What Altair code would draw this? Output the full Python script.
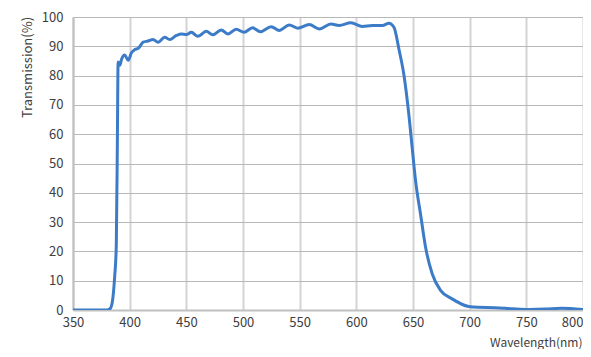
import altair as alt
import pandas as pd

wavelength = [350, 370, 380, 382.8, 384.8, 386.7, 388.2, 389.2, 389.8, 391.3, 392.8, 395.7,
              398.7, 401.6, 404.6, 407.6, 411.9, 416.2, 420.6, 425.1, 430.9, 435.3, 441.3,
              445.6, 450.0, 454.4, 460.2, 467.6, 473.4, 480.8, 486.6, 494.0, 500.9, 508.4,
              515.3, 524.8, 532.0, 540.9, 548.2, 558.5, 567.3, 577.6, 584.8, 595.2, 605.3,
              614.1, 623.0, 628.8, 633.2, 637.6, 642.0, 646.4, 649.3, 652.3, 656.7, 661.1,
              667.0, 674.3, 684.5, 699.1, 707.5, 722.4, 737.3, 752.2, 766.6, 781.0, 800]
transmission = [0, 0, 0, 0.5, 3, 11, 22, 60, 84.6, 83.5, 85.5, 87.0,
                85.2, 87.8, 88.9, 89.3, 91.4, 91.8, 92.3, 91.4, 93.1, 92.3, 93.7,
                94.2, 94.0, 94.8, 93.4, 95.1, 93.9, 95.6, 94.2, 95.8, 94.8, 96.3,
                95.0, 96.7, 95.4, 97.3, 96.2, 97.4, 95.9, 97.6, 97.1, 98.0, 96.8,
                97.1, 97.1, 97.9, 96.5, 89.0, 80.2, 66.5, 55.3, 44.0, 32.6, 21.4,
                12.3, 6.7, 3.8, 1.2, 0.9, 0.8, 0.45, 0.2, 0.3, 0.6, 0.2]

df = pd.DataFrame({"wl": wavelength, "t": transmission})

FONT = "Noto Sans CJK SC"
TXT = "#404040"

chart = alt.Chart(df).mark_line(
    color="#3b7bc8", strokeWidth=3, interpolate="monotone", clip=True
).encode(
    x=alt.X("wl:Q", scale=alt.Scale(domain=[350, 800], nice=False, zero=False),
            axis=alt.Axis(values=list(range(350, 801, 50)), title="Wavelength(nm)",
                          grid=True, gridColor="#d4d4d4", gridWidth=2,
                          domainColor="#c0c0c0", domainWidth=2, ticks=False,
                          labelPadding=6, labelFontSize=13, labelColor=TXT, labelFont=FONT,
                          labelFlush=False,
                          labelAlign={"condition": {"test": "datum.value == 800", "value": "right"},
                                      "value": "center"},
                          titleFont=FONT, titleFontSize=12, titleColor=TXT, titleFontWeight="normal",
                          titleX=509, titleY=36, titleAlign="right", titleBaseline="alphabetic",
                          titleAnchor="end")),
    y=alt.Y("t:Q", scale=alt.Scale(domain=[0, 100], nice=False),
            axis=alt.Axis(values=list(range(0, 101, 10)), title="Transmission(%)",
                          grid=True, gridColor="#b8b8b8", gridWidth=1,
                          domainColor="#c0c0c0", domainWidth=2, ticks=False,
                          labelPadding=10, labelFontSize=13, labelColor=TXT, labelFont=FONT,
                          titleFont=FONT, titleFontSize=13, titleColor=TXT, titleFontWeight="normal",
                          titleX=-46, titleY=50, titleAngle=270, titleAlign="center",
                          titleBaseline="middle")),
).properties(
    width=510, height=293,
    autosize=alt.AutoSizeParams(type="none"),
    padding={"left": 65, "top": 9, "right": 0, "bottom": 39},
).configure_view(stroke=None).configure(background="white")

chart.save("out.html", embed_options={"renderer": "svg", "actions": False})
